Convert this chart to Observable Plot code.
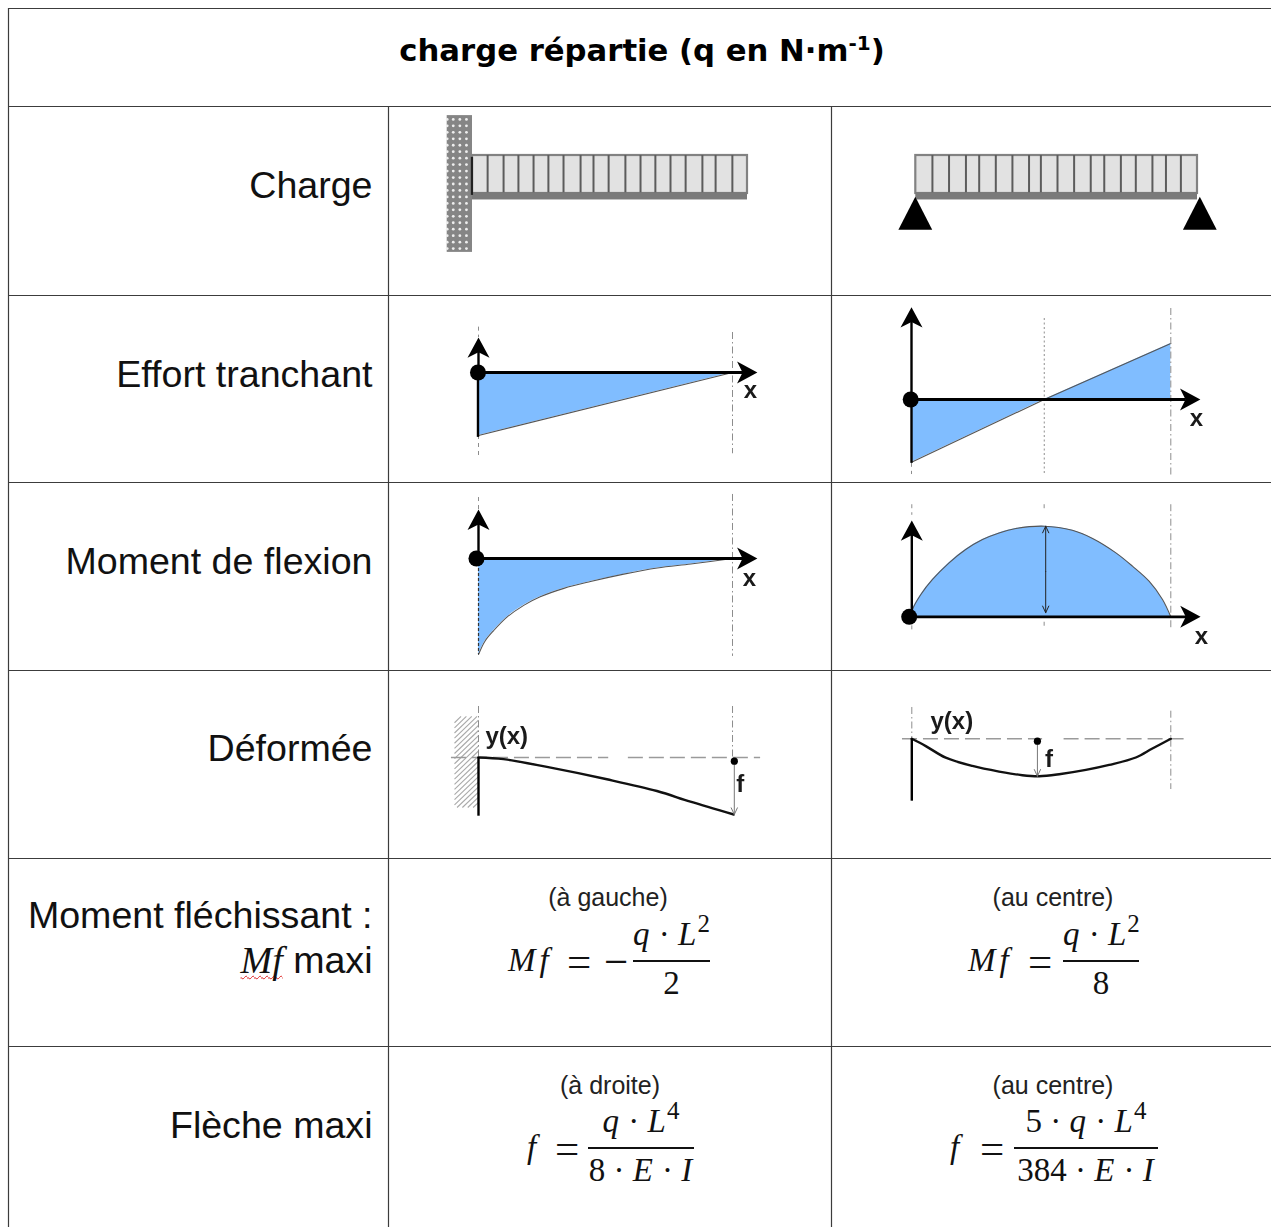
<!DOCTYPE html>
<html lang="fr">
<head>
<meta charset="utf-8">
<script src="https://cdn.jsdelivr.net/npm/d3@7"></script>
<script src="https://cdn.jsdelivr.net/npm/@observablehq/plot@0.6"></script>
<style>
html,body{margin:0;padding:0;background:#fff;overflow:hidden}
#sheet{position:relative;width:1271px;height:1227px;overflow:hidden;background:#fff}
#sheet>svg{position:absolute}
.t{position:absolute;white-space:nowrap;color:#000;line-height:1}
.title{font:bold 30.7px "DejaVu Sans",sans-serif;left:0;width:1284px;text-align:center;top:33px}
.title sup{font-size:20px;line-height:0;vertical-align:11px}
.label{font:37.6px "Liberation Sans",sans-serif;right:898.5px;text-align:right;color:#111}
.mf{font:italic 38px "Liberation Serif",serif;text-decoration:underline wavy #d22 1px;text-decoration-skip-ink:none;text-underline-offset:2px}
.cap{font:25px "Liberation Sans",sans-serif;transform:translateX(-50%);color:#222}
.m{font:33px "Liberation Serif",serif;color:#111}
.m i{letter-spacing:1px}
.m .lhs{letter-spacing:4px}
.m sup{font-size:25px;line-height:0;vertical-align:13px}
.op{font:43px "Liberation Serif",serif;color:#111}
.bar{position:absolute;height:2px;background:#111}
.c{text-align:center}
</style>
</head>
<body>
<div id="sheet"></div>
<script>
// ---- table text ----
const titleParts = ["charge répartie (q en N·m", "-1", ")"];
const rowLabels = ["Charge", "Effort tranchant", "Moment de flexion", "Déformée", "Moment fléchissant :", "Flèche maxi"];
const captions = ["(à gauche)", "(au centre)", "(à droite)", "(au centre)"];
const formulaLhs = ['<i class="lhs">Mf</i>', '<i class="lhs">Mf</i>', "<i>f</i>", "<i>f</i>"];
const formulaNum = ["<i>q</i> · <i>L</i><sup>2</sup>", "<i>q</i> · <i>L</i><sup>2</sup>", "<i>q</i> · <i>L</i><sup>4</sup>", "5 · <i>q</i> · <i>L</i><sup>4</sup>"];
const formulaDen = ["2", "8", "8 · <i>E</i> · <i>I</i>", "384 · <i>E</i> · <i>I</i>"];

// ---- table grid ----
const colEdges = [8, 388, 831];
const rowEdges = [8, 106, 295, 482, 670, 858, 1046];

// ---- load diagrams: position along the beam (0..1) ----
const ribsCantilever = [.055,.113,.167,.222,.276,.331,.393,.44,.495,.556,.611,.665,.72,.775,.836,.884,.945];
const ribsSimple = [.059,.118,.178,.225,.284,.343,.402,.444,.503,.562,.621,.669,.728,.781,.84,.888,.941];
const wallColumns = [-.092,-.07,-.046,-.022];
const wallRows = [1.95,1.78,1.61,1.44,1.27,1.1,.93,.76,.59,.42,.25,.08,-.09,-.26,-.43,-.6,-.77,-.94,-1.11,-1.28,-1.45];

// ---- shear force: x along beam, v normalised ----
const shearCantilever = [{x:0,v:-1},{x:1,v:0}];
const shearSimple = [{x:0,v:-1.12},{x:.512,v:0},{x:1,v:1}];

// ---- bending moment ----
const momentCantilever = [
  {x:0,v:-1},{x:.026,v:-.859},{x:.059,v:-.753},{x:.112,v:-.611},{x:.178,v:-.488},{x:.243,v:-.399},
  {x:.336,v:-.311},{x:.441,v:-.24},{x:.572,v:-.163},{x:.704,v:-.099},{x:.836,v:-.057},{x:1,v:0}];
const momentSimple = [
  {x:0,v:0},{x:.003,v:.081},{x:.035,v:.246},{x:.08,v:.412},{x:.144,v:.596},{x:.208,v:.743},{x:.273,v:.853},
  {x:.337,v:.926},{x:.402,v:.974},{x:.511,v:1},{x:.62,v:.955},{x:.698,v:.865},{x:.788,v:.706},{x:.852,v:.559},
  {x:.916,v:.393},{x:.968,v:.191},{x:1,v:0}];

// ---- deflection ----
const deflectionCantilever = [
  {x:0,v:0},{x:.098,v:-.029},{x:.268,v:-.165},{x:.503,v:-.382},{x:.699,v:-.588},{x:.83,v:-.775},{x:1,v:-1}];
const deflectionSimple = [
  {x:0,v:0},{x:.054,v:-.195},{x:.131,v:-.504},{x:.234,v:-.726},{x:.337,v:-.876},{x:.427,v:-.973},{x:.492,v:-1},
  {x:.569,v:-.947},{x:.672,v:-.832},{x:.762,v:-.699},{x:.865,v:-.5},{x:.929,v:-.26},{x:1,v:0}];
const hatchStarts = [-1.28,-1.19,-1.1,-1.01,-.92,-.83,-.74,-.65,-.56,-.47,-.38,-.29,-.2,-.11,-.02,.07,.16,.25,.34,.43,.52,.61];

// ---- helpers ----
const sheet = document.getElementById("sheet");
const BLUE = "#80bdff";
const CURVE = "catmull-rom";
const head = {draw(c, size){const r=Math.sqrt(size/Math.PI);c.moveTo(0,0);c.lineTo(r,1.85*r);c.lineTo(0,1.35*r);c.lineTo(-r,1.85*r);c.closePath();}};
const base = {width:1271,height:1227,margin:0,style:{background:"transparent",maxWidth:"none"}};

function headAt(x,y,rotate,r=11){return Plot.dot([{x,y}],{x:"x",y:"y",r,symbol:head,rotate,fill:"#000",stroke:"none"});}
function stem(x,y1,y2,w=2.4,stroke="#000"){return Plot.ruleX([{x,y1,y2}],{x:"x",y1:"y1",y2:"y2",stroke,strokeWidth:w});}
function base0(x1,x2,y=0,w=2.8){return Plot.ruleY([{y,x1,x2}],{y:"y",x1:"x1",x2:"x2",stroke:"#000",strokeWidth:w});}
function guides(list,dash="7 3 1.5 3"){return Plot.ruleX(list,{x:"x",y1:"a",y2:"b",stroke:"#8d8d8d",strokeWidth:1,strokeDasharray:dash});}
function origin(x=0,y=0,r=8){return Plot.dot([{x,y}],{x:"x",y:"y",r,fill:"#000"});}
function label(text,x,y,size=24,anchor="middle"){return Plot.text([{x,y,text}],{x:"x",y:"y",text:"text",fontSize:size,fontWeight:"bold",fontFamily:"Liberation Sans",textAnchor:anchor,fill:"#1a1a1a"});}
function diagram(d,curve="linear"){return [Plot.areaY(d,{x:"x",y:"v",fill:BLUE,curve}),Plot.line(d,{x:"x",y:"v",stroke:"#555",strokeWidth:1.1,curve})];}
const thinArrow = (a,b,d,stroke)=>Plot.arrow([{a,b,d}],{x1:"a",y1:"b",x2:"a",y2:"d",stroke,strokeWidth:1,headLength:11,headAngle:50});

function panel(fx,fy,yDomain,marks){
  const svg = Plot.plot({...base,x:{axis:null,domain:[0,1],range:fx},y:{axis:null,domain:yDomain,range:fy},marks});
  svg.style.left="0";svg.style.top="0";svg.style.filter="blur(.45px)";
  sheet.appendChild(svg);
}

// ---- grid ----
const grid = Plot.plot({...base,x:{axis:null,domain:[0,1271],range:[0,1271]},y:{axis:null,domain:[0,1227],range:[0,1227]},marks:[
  Plot.ruleY(rowEdges,{y:d=>d,x1:8,x2:1271,stroke:"#3c3c3c",strokeWidth:1.2}),
  Plot.ruleX(colEdges.slice(0,1),{x:d=>d,y1:8,y2:1227,stroke:"#3c3c3c",strokeWidth:1.2}),
  Plot.ruleX(colEdges.slice(1),{x:d=>d,y1:106,y2:1227,stroke:"#3c3c3c",strokeWidth:1.2})
]});
grid.style.left="0";grid.style.top="0";
sheet.appendChild(grid);

// ---- load, cantilever ----
function loadBlock(ribs){return [
  Plot.rect([{a:0,b:1,c:0,d:1}],{x1:"a",x2:"b",y1:"c",y2:"d",fill:"#e2e2e2",stroke:"#828282",strokeWidth:2.2}),
  Plot.ruleX(ribs,{x:d=>d,y1:d=>0,y2:d=>1,stroke:"#5c5c5c",strokeWidth:2}),
  Plot.rect([{a:0,b:1,c:-.17,d:.02}],{x1:"a",x2:"b",y1:"c",y2:"d",fill:"#7a7a7a"})
];}
panel([472,747],[193,155],[0,1],[
  Plot.rect([{a:-.092,b:0,c:-1.55,d:2.05}],{x1:"a",x2:"b",y1:"c",y2:"d",fill:"#858585"}),
  Plot.dot(d3.cross(wallColumns,wallRows),{x:"0",y:"1",r:1.4,fill:"#eee"}),
  ...loadBlock(ribsCantilever),
  stem(-.002,-.05,.95,2.2,"#222")
]);

// ---- load, simply supported ----
function support(x){return Plot.areaY([{x:x-.06,t:-.97},{x,t:-.1},{x:x+.06,t:-.97}],{x:"x",y1:d=>-.97,y2:"t",fill:"#000"});}
panel([915.3,1197],[193,155],[0,1],[
  ...loadBlock(ribsSimple),
  support(0),support(1.01)
]);

// ---- shear, cantilever ----
panel([478,732],[372,435],[0,-1],[
  ...diagram(shearCantilever),
  guides([{x:1,a:.635,b:-1.29}]),guides([{x:0,a:.72,b:.556},{x:0,a:-1,b:-1.32}],"4 4"),
  stem(0,.5,0),stem(-.002,0,-1.03),base0(0,1.05),
  headAt(0,.556,0),headAt(1.098,0,90),origin(-.002),
  label("x",1.071,-.286)
]);

// ---- shear, simply supported ----
panel([911,1170.3],[399,343],[0,1],[
  ...diagram(shearSimple),
  guides([{x:.512,a:1.446,b:-1.34}],"2 2.5"),guides([{x:1,a:1.625,b:-1.357}]),guides([{x:0,a:-1.14,b:-1.34}],"4 4"),
  stem(0,1.55,0),stem(0,0,-1.14),base0(0,1.06),
  headAt(0,1.648,0),headAt(1.114,0,90),origin(-.003),
  label("x",1.099,-.34)
]);

// ---- moment, cantilever ----
panel([478,732],[558,654],[0,-1],[
  ...diagram(momentCantilever,CURVE),
  guides([{x:1,a:.667,b:-1.02}]),guides([{x:0,a:.635,b:.51}],"4 4"),
  stem(0,.42,0,2.4),Plot.ruleX([0],{x:d=>d,y1:d=>0,y2:d=>-1,stroke:"#333",strokeDasharray:"3 2",strokeWidth:1.2}),
  base0(0,1.05),headAt(0,.51,0),headAt(1.098,0,90),origin(-.008),
  label("x",1.067,-.208)
]);

// ---- moment, simply supported ----
panel([911.3,1170.3],[616.3,525.7],[0,1],[
  ...diagram(momentSimple,CURVE),
  guides([{x:1,a:1.237,b:-.15}]),guides([{x:.511,a:1.237,b:1.16},{x:.511,a:-.06,b:-.12},{x:0,a:1.237,b:1.12},{x:0,a:-.1,b:-.15}],"4 4"),
  thinArrow(.517,.5,1,"#222"),thinArrow(.517,.5,.045,"#222"),
  stem(0,.95,0),base0(0,1.07),headAt(0,1.063,0),headAt(1.115,0,90),origin(-.01),
  label("x",1.118,-.217)
]);

// ---- deflection, cantilever ----
const wallW = .094, wallTop = .72, wallBottom = -.877, rise = .404;
panel([478,733.3],[757,814],[0,-1],[
  Plot.link(hatchStarts,{
    x1:d=>-wallW*Math.min(1,(d+rise-wallBottom)/rise),y1:d=>Math.max(d,wallBottom),
    x2:d=>-wallW*Math.max(0,(d+rise-wallTop)/rise),y2:d=>Math.min(d+rise,wallTop),
    stroke:"#a9a9a9",strokeWidth:1.1}),
  Plot.ruleY([{a:-.106,b:.51},{a:.587,b:1.105}],{y:d=>0,x1:"a",x2:"b",stroke:"#9a9a9a",strokeWidth:1.6,strokeDasharray:"15 6"}),
  guides([{x:.995,a:.895,b:0},{x:0,a:.895,b:0}]),
  Plot.line(deflectionCantilever,{x:"x",y:"v",stroke:"#111",strokeWidth:2.4,curve:CURVE}),
  stem(0,0,-1.03,2.4),
  thinArrow(1.002,-.06,-1,"#777"),
  origin(1.002,-.065,3.6),
  label("f",1.025,-.47),label("y(x)",.027,.374,24,"start")
]);

// ---- deflection, simply supported ----
panel([911.3,1170.3],[738.3,775.7],[0,-1],[
  Plot.ruleY([{a:-.036,b:.505},{a:.588,b:1.057}],{y:d=>0,x1:"a",x2:"b",stroke:"#9a9a9a",strokeWidth:1.6,strokeDasharray:"15 6"}),
  guides([{x:1,a:.738,b:-1.356},{x:0,a:.837,b:0}]),
  Plot.line(deflectionSimple,{x:"x",y:"v",stroke:"#111",strokeWidth:2.4,curve:CURVE}),
  stem(0,0,-1.668,2.4),
  thinArrow(.485,-.08,-1,"#777"),
  origin(.485,-.064,3.6),
  label("f",.53,-.553),label("y(x)",.072,.47,24,"start")
]);

// ---- text overlay ----
function put(cls,html,css){const e=document.createElement("div");e.className="t "+cls;e.innerHTML=html;Object.assign(e.style,css);sheet.appendChild(e);return e;}
put("title",titleParts[0]+"<sup>"+titleParts[1]+"</sup>"+titleParts[2],{});
const labelTops = [164,353,540,727];
rowLabels.slice(0,4).forEach((s,i)=>put("label",s,{top:labelTops[i]+"px"}));
put("label",rowLabels[4],{top:"894px"});
put("label",'<span class="mf">Mf</span> maxi',{top:"938px"});
put("label",rowLabels[5],{top:"1104px"});

const capSpots = [[608,883],[1053,883],[610,1071],[1053,1071]];
captions.forEach((s,i)=>put("cap",s,{left:capSpots[i][0]+"px",top:capSpots[i][1]+"px"}));

const formulaSpots = [
  {lhs:508,eq:567,minus:604,bar:[633,710],y:960},
  {lhs:968,eq:1028,bar:[1063,1139],y:960},
  {lhs:527,eq:555,bar:[588,694],y:1147},
  {lhs:950,eq:980,bar:[1014,1158],y:1147}
];
formulaSpots.forEach((f,i)=>{
  put("m",formulaLhs[i],{left:f.lhs+"px",top:(f.y-18)+"px"});
  put("op","=",{left:f.eq+"px",top:(f.y-23)+"px"});
  if(f.minus) put("op","−",{left:f.minus+"px",top:(f.y-23)+"px"});
  const b=document.createElement("div");b.className="bar";b.style.cssText=`left:${f.bar[0]}px;width:${f.bar[1]-f.bar[0]}px;top:${f.y}px`;sheet.appendChild(b);
  put("m c",formulaNum[i],{left:f.bar[0]+"px",width:(f.bar[1]-f.bar[0])+"px",top:(f.y-44)+"px"});
  put("m c",formulaDen[i],{left:f.bar[0]+"px",width:(f.bar[1]-f.bar[0])+"px",top:(f.y+5)+"px"});
});
</script>
</body>
</html>
